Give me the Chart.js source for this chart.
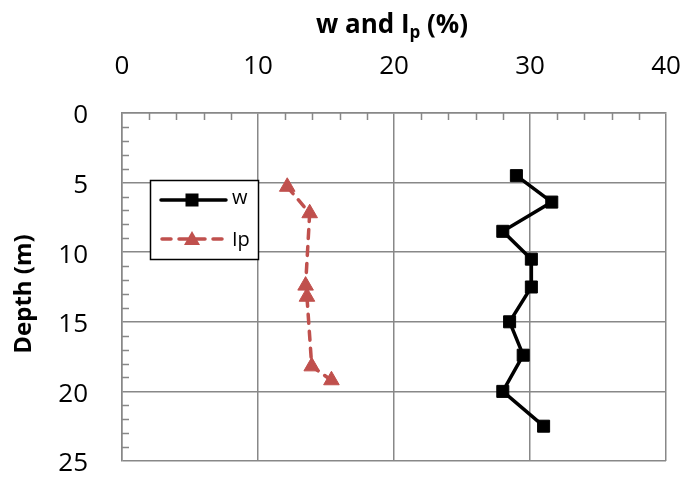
<!DOCTYPE html>
<html>
<head>
<meta charset="utf-8">
<script src="https://cdn.jsdelivr.net/npm/chart.js"></script>
<style>
  body { margin: 0; background: #fff; }
</style>
</head>
<body>
<canvas id="chart" width="684" height="477"></canvas>
<script>
'use strict';
// data
const wValues = [29.0, 31.6, 28.0, 30.1, 30.1, 28.5, 29.5, 28.0, 31.0];
const wDepths = [4.5, 6.4, 8.5, 10.5, 12.5, 15.0, 17.4, 20.0, 22.5];
const ipValues = [12.15, 13.8, 13.5, 13.6, 13.95, 15.4];
const ipDepths = [5.3, 7.2, 12.4, 13.2, 18.2, 19.2];
const xTicks = [0, 10, 20, 30, 40];
const yTicks = [0, 5, 10, 15, 20, 25];

const FONT = '"Open Sans"';
const GRID = '#888888';
const RED = '#C0504D';

function toPoints(xs, ys) {
  const pts = [];
  for (let i = 0; i < xs.length; i++) {
    pts.push({x: xs[i], y: ys[i]});
  }
  return pts;
}

// tick padding would otherwise leak into the chart edges
function noEdgePadding(scale) {
  scale.paddingLeft = 0;
  scale.paddingRight = 0;
  scale.paddingTop = 0;
  scale.paddingBottom = 0;
}

//////////////// extra drawing: minor ticks, titles, legend ////////////////
const extras = {
  id: 'extras',
  beforeDatasetsDraw(chart) {
    const ctx = chart.ctx;
    const xs = chart.scales.x;
    const ys = chart.scales.y;
    const area = chart.chartArea;
    ctx.save();
    ctx.strokeStyle = GRID;
    ctx.lineWidth = 1.5;
    ctx.beginPath();
    for (let v = 1; v < 25; v++) {
      if (v % 5 === 0) continue;
      const py = Math.round(ys.getPixelForValue(v)) + 0.5;
      ctx.moveTo(area.left, py);
      ctx.lineTo(area.left + 7, py);
    }
    for (let v = 2; v < 40; v += 2) {
      if (v % 10 === 0) continue;
      const px = Math.round(xs.getPixelForValue(v)) + 0.5;
      ctx.moveTo(px, area.top);
      ctx.lineTo(px, area.top + 7);
    }
    ctx.stroke();
    ctx.restore();
  },
  afterDraw(chart) {
    const ctx = chart.ctx;
    ctx.save();
    // x axis title with subscript
    const main = 'bold 26px ' + FONT;
    const sub = 'bold 17px ' + FONT;
    const a = 'w and I';
    const b = 'p';
    const c = ' (%)';
    ctx.font = main;
    const wa = ctx.measureText(a).width;
    const wc = ctx.measureText(c).width;
    ctx.font = sub;
    const wb = ctx.measureText(b).width;
    let x = 392 - (wa + wb + wc) / 2;
    const base = 33;
    ctx.fillStyle = '#000';
    ctx.textBaseline = 'alphabetic';
    ctx.textAlign = 'left';
    ctx.font = main;
    ctx.fillText(a, x, base);
    x += wa;
    ctx.font = sub;
    ctx.fillText(b, x, base + 5);
    x += wb;
    ctx.font = main;
    ctx.fillText(c, x, base);

    // y axis title
    ctx.save();
    ctx.translate(24, 294);
    ctx.rotate(-Math.PI / 2);
    ctx.textAlign = 'center';
    ctx.textBaseline = 'middle';
    ctx.font = 'bold 24px ' + FONT;
    ctx.fillText('Depth (m)', 0, 0);
    ctx.restore();

    // legend box
    ctx.fillStyle = '#fff';
    ctx.fillRect(150, 180, 108, 79);
    ctx.strokeStyle = '#000';
    ctx.lineWidth = 1.5;
    ctx.strokeRect(150.5, 180.5, 108, 79);

    // w entry
    ctx.strokeStyle = '#000';
    ctx.lineWidth = 3.5;
    ctx.lineCap = 'round';
    ctx.beginPath();
    ctx.moveTo(161, 200);
    ctx.lineTo(226, 200);
    ctx.stroke();
    ctx.fillStyle = '#000';
    ctx.fillRect(192 - 6.5, 200 - 6.5, 13, 13);

    // Ip entry
    ctx.strokeStyle = RED;
    ctx.setLineDash([9, 8]);
    ctx.beginPath();
    ctx.moveTo(162, 239);
    ctx.lineTo(226, 239);
    ctx.stroke();
    ctx.setLineDash([]);
    ctx.fillStyle = RED;
    ctx.beginPath();
    ctx.moveTo(192, 231);
    ctx.lineTo(200, 245);
    ctx.lineTo(184, 245);
    ctx.closePath();
    ctx.fill();

    ctx.fillStyle = '#000';
    ctx.font = '20px ' + FONT;
    ctx.textBaseline = 'middle';
    ctx.fillText('w', 232, 198);
    ctx.fillText('Ip', 232, 240);
    ctx.restore();
  }
};

const ctx = document.getElementById('chart').getContext('2d');
new Chart(ctx, {
  type: 'scatter',
  data: {
    datasets: [
      {
        label: 'w',
        data: toPoints(wValues, wDepths),
        showLine: true,
        borderColor: '#000',
        backgroundColor: '#000',
        borderWidth: 3.5,
        pointStyle: 'rect',
        pointRadius: 8.5,
        pointBorderWidth: 1,
        tension: 0
      },
      {
        label: 'Ip',
        data: toPoints(ipValues, ipDepths),
        showLine: true,
        borderColor: RED,
        backgroundColor: RED,
        borderWidth: 3.5,
        borderDash: [9, 8],
        borderCapStyle: 'round',
        pointStyle: 'triangle',
        pointRadius: 9,
        pointBorderWidth: 1,
        tension: 0
      }
    ]
  },
  options: {
    responsive: false,
    animation: false,
    layout: {padding: {left: 0, top: 0, right: 18, bottom: 16}},
    plugins: {
      legend: {display: false},
      tooltip: {enabled: false}
    },
    scales: {
      x: {
        type: 'linear',
        position: 'top',
        min: 0,
        max: 40,
        afterFit(scale) { scale.height = 113; noEdgePadding(scale); },
        afterBuildTicks(scale) { scale.ticks = xTicks.map(v => ({value: v})); },
        ticks: {
          color: '#000',
          font: {family: FONT, size: 26},
          padding: 31,
          maxRotation: 0
        },
        grid: {color: GRID, lineWidth: 1.5, drawTicks: false},
        border: {color: GRID, width: 1.5}
      },
      y: {
        type: 'linear',
        reverse: true,
        min: 0,
        max: 25,
        afterFit(scale) { scale.width = 122; noEdgePadding(scale); },
        afterBuildTicks(scale) { scale.ticks = yTicks.map(v => ({value: v})); },
        ticks: {
          color: '#000',
          font: {family: FONT, size: 26},
          padding: 34,
          labelOffset: 3
        },
        grid: {color: GRID, lineWidth: 1.5, drawTicks: false},
        border: {color: GRID, width: 1.5}
      }
    }
  },
  plugins: [extras]
});
</script>
</body>
</html>
